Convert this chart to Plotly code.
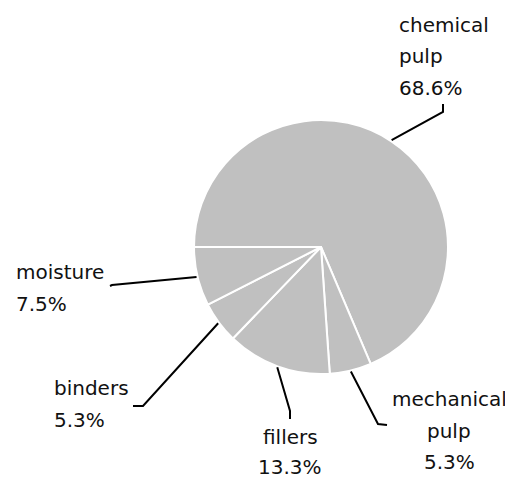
import math
import plotly.graph_objects as go

# ---- data ----
categories = ["chemical<br>pulp", "mechanical<br>pulp", "fillers", "binders", "moisture"]
shares = [68.6, 5.3, 13.3, 5.3, 7.5]
pct_labels = ["68.6%", "5.3%", "13.3%", "5.3%", "7.5%"]

# ---- layout (positions in reference-window pixels, 513x481) ----
WIN_W, WIN_H = 513, 481
PAGE_MARGIN = 8  # default body margin of the html page
W, H = WIN_W - PAGE_MARGIN, WIN_H - PAGE_MARGIN
CX, CY, R = 321, 247, 127
START = 270  # degrees clockwise from 12 o'clock (9 o'clock)

# per-label: elbow point, end point, text anchor x, first line centre y, alignment, line step
label_layout = [
    dict(elbow=(443, 112), end=(443, 104), tx=397, ty=25, align="left", step=31.5),
    dict(elbow=(378, 424), end=(387, 425), tx=449, ty=399, align="center", step=31.5),
    dict(elbow=(290, 411), end=(290, 419), tx=290, ty=437, align="center", step=30),
    dict(elbow=(143, 406), end=(133, 406), tx=52, ty=388, align="left", step=32),
    dict(elbow=(112, 285), end=(110, 286), tx=14, ty=272, align="left", step=31.5),
]


def px(x, y):
    x -= PAGE_MARGIN
    y -= PAGE_MARGIN
    return x / W, 1 - y / H


fig = go.Figure()
fig.add_trace(go.Pie(
    labels=[c.replace("<br>", " ") for c in categories],
    values=shares,
    sort=False,
    direction="clockwise",
    rotation=START,
    textinfo="none",
    hoverinfo="skip",
    marker=dict(colors=["#c0c0c0"] * len(shares), line=dict(color="white", width=2)),
    domain=dict(x=[px(CX - R, 0)[0], px(CX + R, 0)[0]],
                y=[px(0, CY + R)[1], px(0, CY - R)[1]]),
    showlegend=False,
))

shapes = []
annotations = []
total = sum(shares)
cum = 0.0
for cat, val, pct, lay in zip(categories, shares, pct_labels, label_layout):
    mid = START + (cum + val / 2) / total * 360
    cum += val
    a = math.radians(mid)
    sx, sy = CX + (R + 1) * math.sin(a), CY - (R + 1) * math.cos(a)
    pts = [(sx, sy), lay["elbow"], lay["end"]]
    path = "M " + " L ".join(f"{px(x, y)[0]:.5f},{px(x, y)[1]:.5f}" for x, y in pts)
    shapes.append(dict(type="path", xref="paper", yref="paper", path=path,
                       line=dict(color="black", width=2)))
    lines = cat.split("<br>") + [pct]
    for i, t in enumerate(lines):
        x, y = px(lay["tx"], lay["ty"] + i * lay["step"])
        annotations.append(dict(
            x=x, y=y, xref="paper", yref="paper", text=t, showarrow=False,
            xanchor=lay["align"], yanchor="middle",
            font=dict(family="DejaVu Sans", size=20, color="#111111"),
        ))

fig.update_layout(
    width=W, height=H,
    margin=dict(l=0, r=0, t=0, b=0),
    paper_bgcolor="white", plot_bgcolor="white",
    shapes=shapes, annotations=annotations,
)
fig.write_html("out.html")
